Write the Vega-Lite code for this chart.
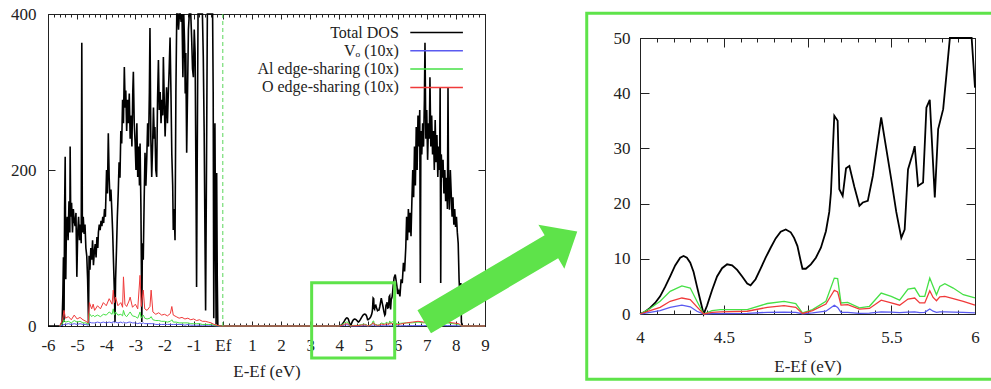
{
  "$schema": "https://vega.github.io/schema/vega-lite/v6.json",
  "width": 991,
  "height": 389,
  "autosize": {"type": "none"},
  "padding": 0,
  "background": "white",
  "config": {
    "view": {"stroke": null},
    "axis": {
      "grid": false,
      "labelFont": "Liberation Serif",
      "titleFont": "Liberation Serif",
      "labelFontSize": 17,
      "titleFontSize": 17,
      "titleFontWeight": "normal",
      "labelColor": "#222222",
      "titleColor": "#222222",
      "domainColor": "#222222",
      "tickColor": "#222222",
      "gridColor": "#222222",
      "gridOpacity": 1,
      "gridWidth": 1,
      "tickWidth": 1,
      "domainWidth": 1,
      "labelFlush": false,
      "labelOverlap": false
    }
  },
  "datasets": {
    "total": [
      {"E": -6.0, "dos": 0}, {"E": -5.6, "dos": 0}, {"E": -5.52, "dos": 0}, {"E": -5.49, "dos": 40}, {"E": -5.47, "dos": 88}, {"E": -5.45, "dos": 5}, {"E": -5.43, "dos": 150}, {"E": -5.41, "dos": 217}, {"E": -5.39, "dos": 60}, {"E": -5.37, "dos": 120}, {"E": -5.34, "dos": 140}, {"E": -5.31, "dos": 110}, {"E": -5.28, "dos": 160}, {"E": -5.25, "dos": 120}, {"E": -5.24, "dos": 230}, {"E": -5.22, "dos": 140}, {"E": -5.19, "dos": 158}, {"E": -5.16, "dos": 120}, {"E": -5.13, "dos": 150}, {"E": -5.1, "dos": 135}, {"E": -5.07, "dos": 128}, {"E": -5.04, "dos": 145}, {"E": -5.01, "dos": 63}, {"E": -4.98, "dos": 120}, {"E": -4.95, "dos": 140}, {"E": -4.92, "dos": 110}, {"E": -4.89, "dos": 130}, {"E": -4.86, "dos": 106}, {"E": -4.84, "dos": 363}, {"E": -4.82, "dos": 120}, {"E": -4.79, "dos": 140}, {"E": -4.76, "dos": 118}, {"E": -4.73, "dos": 130}, {"E": -4.7, "dos": 100}, {"E": -4.67, "dos": 90}, {"E": -4.64, "dos": 60}, {"E": -4.62, "dos": 24}, {"E": -4.61, "dos": 2}, {"E": -4.59, "dos": 90}, {"E": -4.56, "dos": 72}, {"E": -4.53, "dos": 100}, {"E": -4.5, "dos": 85}, {"E": -4.47, "dos": 110}, {"E": -4.44, "dos": 78}, {"E": -4.41, "dos": 95}, {"E": -4.38, "dos": 105}, {"E": -4.35, "dos": 88}, {"E": -4.32, "dos": 114}, {"E": -4.29, "dos": 100}, {"E": -4.27, "dos": 120}, {"E": -4.24, "dos": 130}, {"E": -4.21, "dos": 123}, {"E": -4.18, "dos": 135}, {"E": -4.15, "dos": 128}, {"E": -4.12, "dos": 140}, {"E": -4.09, "dos": 132}, {"E": -4.06, "dos": 150}, {"E": -4.03, "dos": 140}, {"E": -3.99, "dos": 200}, {"E": -3.96, "dos": 170}, {"E": -3.93, "dos": 247}, {"E": -3.9, "dos": 190}, {"E": -3.87, "dos": 160}, {"E": -3.84, "dos": 175}, {"E": -3.81, "dos": 149}, {"E": -3.78, "dos": 120}, {"E": -3.75, "dos": 80}, {"E": -3.72, "dos": 42}, {"E": -3.7, "dos": 5}, {"E": -3.68, "dos": 60}, {"E": -3.65, "dos": 97}, {"E": -3.62, "dos": 140}, {"E": -3.59, "dos": 170}, {"E": -3.56, "dos": 210}, {"E": -3.53, "dos": 190}, {"E": -3.5, "dos": 250}, {"E": -3.47, "dos": 234}, {"E": -3.44, "dos": 290}, {"E": -3.41, "dos": 260}, {"E": -3.38, "dos": 332}, {"E": -3.35, "dos": 280}, {"E": -3.33, "dos": 302}, {"E": -3.3, "dos": 250}, {"E": -3.27, "dos": 290}, {"E": -3.24, "dos": 260}, {"E": -3.21, "dos": 298}, {"E": -3.18, "dos": 240}, {"E": -3.15, "dos": 270}, {"E": -3.12, "dos": 230}, {"E": -3.09, "dos": 300}, {"E": -3.07, "dos": 326}, {"E": -3.04, "dos": 260}, {"E": -3.01, "dos": 235}, {"E": -2.98, "dos": 200}, {"E": -2.95, "dos": 260}, {"E": -2.92, "dos": 191}, {"E": -2.89, "dos": 230}, {"E": -2.86, "dos": 180}, {"E": -2.84, "dos": 234}, {"E": -2.81, "dos": 150}, {"E": -2.78, "dos": 5}, {"E": -2.76, "dos": 106}, {"E": -2.73, "dos": 85}, {"E": -2.7, "dos": 160}, {"E": -2.67, "dos": 222}, {"E": -2.64, "dos": 180}, {"E": -2.61, "dos": 215}, {"E": -2.58, "dos": 260}, {"E": -2.55, "dos": 230}, {"E": -2.52, "dos": 300}, {"E": -2.5, "dos": 382}, {"E": -2.47, "dos": 240}, {"E": -2.44, "dos": 191}, {"E": -2.41, "dos": 230}, {"E": -2.38, "dos": 280}, {"E": -2.35, "dos": 240}, {"E": -2.33, "dos": 255}, {"E": -2.3, "dos": 200}, {"E": -2.27, "dos": 191}, {"E": -2.24, "dos": 290}, {"E": -2.21, "dos": 341}, {"E": -2.18, "dos": 277}, {"E": -2.15, "dos": 300}, {"E": -2.12, "dos": 260}, {"E": -2.09, "dos": 290}, {"E": -2.06, "dos": 270}, {"E": -2.04, "dos": 345}, {"E": -2.01, "dos": 290}, {"E": -1.98, "dos": 243}, {"E": -1.95, "dos": 280}, {"E": -1.93, "dos": 306}, {"E": -1.9, "dos": 260}, {"E": -1.87, "dos": 298}, {"E": -1.84, "dos": 330}, {"E": -1.81, "dos": 370}, {"E": -1.78, "dos": 300}, {"E": -1.75, "dos": 220}, {"E": -1.72, "dos": 180}, {"E": -1.7, "dos": 123}, {"E": -1.67, "dos": 150}, {"E": -1.64, "dos": 110}, {"E": -1.61, "dos": 300}, {"E": -1.58, "dos": 420}, {"E": -1.55, "dos": 450}, {"E": -1.52, "dos": 380}, {"E": -1.49, "dos": 460}, {"E": -1.46, "dos": 430}, {"E": -1.43, "dos": 390}, {"E": -1.4, "dos": 470}, {"E": -1.37, "dos": 319}, {"E": -1.34, "dos": 420}, {"E": -1.31, "dos": 360}, {"E": -1.29, "dos": 298}, {"E": -1.27, "dos": 350}, {"E": -1.24, "dos": 222}, {"E": -1.21, "dos": 300}, {"E": -1.18, "dos": 380}, {"E": -1.15, "dos": 440}, {"E": -1.13, "dos": 480}, {"E": -1.1, "dos": 420}, {"E": -1.07, "dos": 370}, {"E": -1.04, "dos": 330}, {"E": -1.01, "dos": 319}, {"E": -0.98, "dos": 380}, {"E": -0.95, "dos": 350}, {"E": -0.92, "dos": 180}, {"E": -0.9, "dos": 50}, {"E": -0.88, "dos": 200}, {"E": -0.85, "dos": 420}, {"E": -0.82, "dos": 480}, {"E": -0.79, "dos": 450}, {"E": -0.76, "dos": 500}, {"E": -0.73, "dos": 430}, {"E": -0.7, "dos": 460}, {"E": -0.67, "dos": 345}, {"E": -0.64, "dos": 250}, {"E": -0.61, "dos": 106}, {"E": -0.59, "dos": 20}, {"E": -0.56, "dos": 200}, {"E": -0.53, "dos": 420}, {"E": -0.5, "dos": 480}, {"E": -0.47, "dos": 440}, {"E": -0.44, "dos": 500}, {"E": -0.41, "dos": 460}, {"E": -0.38, "dos": 470}, {"E": -0.35, "dos": 420}, {"E": -0.33, "dos": 300}, {"E": -0.31, "dos": 10}, {"E": -0.29, "dos": 150}, {"E": -0.27, "dos": 260}, {"E": -0.25, "dos": 120}, {"E": -0.23, "dos": 2}, {"E": -0.21, "dos": 196}, {"E": -0.19, "dos": 60}, {"E": -0.17, "dos": 0}, {"E": 3.85, "dos": 0},
      {"E": 4.0, "dos": 0}, {"E": 4.03, "dos": 0.4}, {"E": 4.06, "dos": 1.1}, {"E": 4.09, "dos": 2.0}, {"E": 4.12, "dos": 3.2}, {"E": 4.15, "dos": 4.9}, {"E": 4.18, "dos": 6.8}, {"E": 4.21, "dos": 8.8}, {"E": 4.24, "dos": 10.2}, {"E": 4.26, "dos": 10.5}, {"E": 4.28, "dos": 10.2}, {"E": 4.3, "dos": 9.3}, {"E": 4.32, "dos": 7.6}, {"E": 4.34, "dos": 5.0}, {"E": 4.36, "dos": 2.5}, {"E": 4.38, "dos": 0.0}, {"E": 4.4, "dos": 1.5}, {"E": 4.43, "dos": 4.3}, {"E": 4.46, "dos": 6.8}, {"E": 4.49, "dos": 8.3}, {"E": 4.52, "dos": 9.0}, {"E": 4.55, "dos": 8.8}, {"E": 4.58, "dos": 8.0}, {"E": 4.61, "dos": 6.8}, {"E": 4.64, "dos": 5.5}, {"E": 4.66, "dos": 5.2}, {"E": 4.69, "dos": 6.3}, {"E": 4.72, "dos": 8.2}, {"E": 4.75, "dos": 10.2}, {"E": 4.78, "dos": 12.0}, {"E": 4.81, "dos": 13.7}, {"E": 4.84, "dos": 14.9}, {"E": 4.87, "dos": 15.3}, {"E": 4.9, "dos": 14.8}, {"E": 4.92, "dos": 13.8}, {"E": 4.94, "dos": 12.3}, {"E": 4.96, "dos": 9.5}, {"E": 4.97, "dos": 8.2}, {"E": 4.99, "dos": 8.2}, {"E": 5.02, "dos": 9.0}, {"E": 5.05, "dos": 10.2}, {"E": 5.08, "dos": 12.0}, {"E": 5.11, "dos": 15.0}, {"E": 5.13, "dos": 18.5}, {"E": 5.14, "dos": 22.0}, {"E": 5.16, "dos": 35.9}, {"E": 5.18, "dos": 35.0}, {"E": 5.19, "dos": 22.6}, {"E": 5.21, "dos": 21.4}, {"E": 5.23, "dos": 26.4}, {"E": 5.25, "dos": 26.8}, {"E": 5.28, "dos": 23.0}, {"E": 5.31, "dos": 19.6}, {"E": 5.33, "dos": 20.2}, {"E": 5.36, "dos": 20.5}, {"E": 5.39, "dos": 25.0}, {"E": 5.44, "dos": 35.6}, {"E": 5.47, "dos": 30.0}, {"E": 5.5, "dos": 24.4}, {"E": 5.53, "dos": 18.5}, {"E": 5.56, "dos": 13.8}, {"E": 5.58, "dos": 15.3}, {"E": 5.6, "dos": 26.2}, {"E": 5.63, "dos": 29.2}, {"E": 5.64, "dos": 30.4}, {"E": 5.66, "dos": 23.2}, {"E": 5.69, "dos": 23.8}, {"E": 5.71, "dos": 37.4}, {"E": 5.73, "dos": 38.8}, {"E": 5.76, "dos": 21.1}, {"E": 5.78, "dos": 33.5}, {"E": 5.81, "dos": 37.1}, {"E": 5.83, "dos": 43.5}, {"E": 5.85, "dos": 52}, {"E": 5.88, "dos": 62}, {"E": 5.92, "dos": 66}, {"E": 5.95, "dos": 58}, {"E": 5.98, "dos": 50}, {"E": 6.0, "dos": 41},
      {"E": 6.04, "dos": 45}, {"E": 6.08, "dos": 38}, {"E": 6.12, "dos": 60}, {"E": 6.16, "dos": 55}, {"E": 6.2, "dos": 81}, {"E": 6.24, "dos": 70}, {"E": 6.28, "dos": 100}, {"E": 6.31, "dos": 140}, {"E": 6.34, "dos": 110}, {"E": 6.37, "dos": 150}, {"E": 6.4, "dos": 120}, {"E": 6.43, "dos": 145}, {"E": 6.46, "dos": 115}, {"E": 6.49, "dos": 160}, {"E": 6.52, "dos": 200}, {"E": 6.55, "dos": 165}, {"E": 6.58, "dos": 230}, {"E": 6.61, "dos": 180}, {"E": 6.64, "dos": 255}, {"E": 6.67, "dos": 200}, {"E": 6.7, "dos": 270}, {"E": 6.73, "dos": 230}, {"E": 6.76, "dos": 277}, {"E": 6.78, "dos": 55}, {"E": 6.8, "dos": 250}, {"E": 6.83, "dos": 220}, {"E": 6.86, "dos": 260}, {"E": 6.89, "dos": 230}, {"E": 6.92, "dos": 290}, {"E": 6.94, "dos": 363}, {"E": 6.97, "dos": 240}, {"E": 7.0, "dos": 277}, {"E": 7.03, "dos": 213}, {"E": 7.06, "dos": 260}, {"E": 7.09, "dos": 240}, {"E": 7.11, "dos": 319}, {"E": 7.14, "dos": 230}, {"E": 7.17, "dos": 270}, {"E": 7.2, "dos": 220}, {"E": 7.23, "dos": 250}, {"E": 7.26, "dos": 200}, {"E": 7.29, "dos": 264}, {"E": 7.32, "dos": 210}, {"E": 7.35, "dos": 245}, {"E": 7.38, "dos": 191}, {"E": 7.41, "dos": 230}, {"E": 7.44, "dos": 200}, {"E": 7.46, "dos": 306}, {"E": 7.48, "dos": 55}, {"E": 7.5, "dos": 220}, {"E": 7.53, "dos": 190}, {"E": 7.56, "dos": 213}, {"E": 7.59, "dos": 170}, {"E": 7.62, "dos": 200}, {"E": 7.65, "dos": 160}, {"E": 7.68, "dos": 190}, {"E": 7.71, "dos": 150}, {"E": 7.73, "dos": 306}, {"E": 7.75, "dos": 180}, {"E": 7.78, "dos": 149}, {"E": 7.81, "dos": 200}, {"E": 7.84, "dos": 170}, {"E": 7.87, "dos": 140}, {"E": 7.9, "dos": 165}, {"E": 7.93, "dos": 130}, {"E": 7.96, "dos": 150}, {"E": 7.99, "dos": 127}, {"E": 8.02, "dos": 140}, {"E": 8.05, "dos": 120}, {"E": 8.08, "dos": 106}, {"E": 8.11, "dos": 60}, {"E": 8.14, "dos": 37}, {"E": 8.17, "dos": 55}, {"E": 8.19, "dos": 5}, {"E": 8.22, "dos": 0}, {"E": 9.0, "dos": 0}
    ],
    "partial": [
      {"E": -5.6, "vo": 0, "al": 0, "o": 0}, {"E": -5.5, "vo": 1, "al": 3, "o": 8}, {"E": -5.45, "vo": 2, "al": 8, "o": 20}, {"E": -5.4, "vo": 2, "al": 5, "o": 10}, {"E": -5.3, "vo": 3, "al": 6, "o": 12}, {"E": -5.2, "vo": 2, "al": 4, "o": 8}, {"E": -5.1, "vo": 3, "al": 7, "o": 14}, {"E": -5.0, "vo": 2, "al": 5, "o": 9}, {"E": -4.9, "vo": 3, "al": 6, "o": 11}, {"E": -4.8, "vo": 2, "al": 4, "o": 8}, {"E": -4.7, "vo": 2, "al": 4, "o": 6}, {"E": -4.62, "vo": 1, "al": 2, "o": 4}, {"E": -4.58, "vo": 5, "al": 16, "o": 30}, {"E": -4.5, "vo": 4, "al": 12, "o": 22}, {"E": -4.45, "vo": 4, "al": 14, "o": 28}, {"E": -4.4, "vo": 4, "al": 12, "o": 20}, {"E": -4.3, "vo": 5, "al": 14, "o": 26}, {"E": -4.2, "vo": 4, "al": 12, "o": 22}, {"E": -4.1, "vo": 5, "al": 15, "o": 30}, {"E": -4.0, "vo": 4, "al": 14, "o": 26}, {"E": -3.9, "vo": 5, "al": 18, "o": 35}, {"E": -3.8, "vo": 4, "al": 15, "o": 28}, {"E": -3.76, "vo": 6, "al": 22, "o": 46}, {"E": -3.72, "vo": 4, "al": 14, "o": 30}, {"E": -3.68, "vo": 5, "al": 18, "o": 37}, {"E": -3.6, "vo": 4, "al": 14, "o": 26}, {"E": -3.5, "vo": 5, "al": 15, "o": 30}, {"E": -3.44, "vo": 4, "al": 13, "o": 24}, {"E": -3.41, "vo": 5, "al": 20, "o": 63}, {"E": -3.36, "vo": 4, "al": 14, "o": 28}, {"E": -3.3, "vo": 4, "al": 12, "o": 25}, {"E": -3.22, "vo": 5, "al": 16, "o": 32}, {"E": -3.18, "vo": 5, "al": 18, "o": 37}, {"E": -3.1, "vo": 4, "al": 13, "o": 24}, {"E": -3.0, "vo": 4, "al": 12, "o": 28}, {"E": -2.92, "vo": 3, "al": 10, "o": 22}, {"E": -2.84, "vo": 4, "al": 18, "o": 65}, {"E": -2.8, "vo": 3, "al": 10, "o": 25}, {"E": -2.73, "vo": 4, "al": 14, "o": 46}, {"E": -2.68, "vo": 3, "al": 10, "o": 22}, {"E": -2.6, "vo": 3, "al": 9, "o": 20}, {"E": -2.5, "vo": 3, "al": 10, "o": 25}, {"E": -2.46, "vo": 3, "al": 12, "o": 46}, {"E": -2.4, "vo": 3, "al": 8, "o": 18}, {"E": -2.3, "vo": 2, "al": 7, "o": 15}, {"E": -2.2, "vo": 2, "al": 7, "o": 17}, {"E": -2.1, "vo": 2, "al": 6, "o": 14}, {"E": -2.0, "vo": 2, "al": 6, "o": 15}, {"E": -1.9, "vo": 2, "al": 5, "o": 13}, {"E": -1.8, "vo": 2, "al": 6, "o": 16}, {"E": -1.75, "vo": 2, "al": 8, "o": 25}, {"E": -1.7, "vo": 2, "al": 5, "o": 14}, {"E": -1.6, "vo": 2, "al": 5, "o": 12}, {"E": -1.5, "vo": 2, "al": 4, "o": 10}, {"E": -1.4, "vo": 2, "al": 4, "o": 11}, {"E": -1.3, "vo": 1, "al": 4, "o": 9}, {"E": -1.2, "vo": 2, "al": 4, "o": 10}, {"E": -1.1, "vo": 1, "al": 3, "o": 8}, {"E": -1.0, "vo": 1, "al": 3, "o": 9}, {"E": -0.9, "vo": 1, "al": 3, "o": 7}, {"E": -0.8, "vo": 1, "al": 3, "o": 8}, {"E": -0.7, "vo": 1, "al": 2, "o": 6}, {"E": -0.6, "vo": 1, "al": 2, "o": 6}, {"E": -0.5, "vo": 1, "al": 2, "o": 5}, {"E": -0.4, "vo": 1, "al": 2, "o": 4}, {"E": -0.3, "vo": 0.5, "al": 1, "o": 2}, {"E": -0.2, "vo": 0, "al": 0.5, "o": 1}, {"E": -0.1, "vo": 0, "al": 0, "o": 0}, {"E": 3.9, "vo": 0, "al": 0, "o": 0},
      {"E": 4.0, "vo": 0, "al": 0, "o": 0}, {"E": 4.06, "vo": 0.3, "al": 1.0, "o": 0.6}, {"E": 4.12, "vo": 0.6, "al": 2.3, "o": 1.2}, {"E": 4.18, "vo": 1.2, "al": 4.1, "o": 2.3}, {"E": 4.25, "vo": 1.6, "al": 5.1, "o": 2.9}, {"E": 4.3, "vo": 1.3, "al": 4.7, "o": 2.6}, {"E": 4.34, "vo": 0.5, "al": 2.3, "o": 1.3}, {"E": 4.38, "vo": 0, "al": 0, "o": 0}, {"E": 4.43, "vo": 0.05, "al": 0.6, "o": 0.3}, {"E": 4.48, "vo": 0.05, "al": 0.8, "o": 0.4}, {"E": 4.64, "vo": 0.1, "al": 0.8, "o": 0.5}, {"E": 4.76, "vo": 0.3, "al": 1.9, "o": 1.2}, {"E": 4.86, "vo": 0.35, "al": 2.3, "o": 1.5}, {"E": 4.93, "vo": 0.3, "al": 1.9, "o": 1.2}, {"E": 4.97, "vo": 0.05, "al": 0.2, "o": 0.1}, {"E": 5.03, "vo": 0.2, "al": 0.8, "o": 0.6}, {"E": 5.11, "vo": 0.5, "al": 2.3, "o": 1.8}, {"E": 5.16, "vo": 1.6, "al": 6.5, "o": 4.3}, {"E": 5.18, "vo": 1.2, "al": 6.4, "o": 4.0}, {"E": 5.2, "vo": 0.3, "al": 2.0, "o": 1.6}, {"E": 5.24, "vo": 0.3, "al": 2.1, "o": 1.7}, {"E": 5.31, "vo": 0.1, "al": 1.1, "o": 0.9}, {"E": 5.37, "vo": 0.15, "al": 1.4, "o": 1.0}, {"E": 5.44, "vo": 0.4, "al": 3.8, "o": 2.5}, {"E": 5.5, "vo": 0.35, "al": 3.2, "o": 2.0}, {"E": 5.55, "vo": 0.25, "al": 2.5, "o": 1.6}, {"E": 5.6, "vo": 0.35, "al": 4.5, "o": 2.7}, {"E": 5.64, "vo": 0.4, "al": 4.7, "o": 2.9}, {"E": 5.67, "vo": 0.25, "al": 3.2, "o": 2.0}, {"E": 5.7, "vo": 0.3, "al": 3.2, "o": 2.0}, {"E": 5.73, "vo": 0.9, "al": 6.5, "o": 4.2}, {"E": 5.75, "vo": 0.5, "al": 5.0, "o": 3.0}, {"E": 5.77, "vo": 0.3, "al": 3.5, "o": 2.4}, {"E": 5.79, "vo": 0.4, "al": 5.0, "o": 3.1}, {"E": 5.82, "vo": 0.4, "al": 5.5, "o": 3.2}, {"E": 5.87, "vo": 0.35, "al": 4.7, "o": 2.8}, {"E": 5.93, "vo": 0.3, "al": 3.5, "o": 2.3}, {"E": 6.0, "vo": 0.2, "al": 2.9, "o": 1.6},
      {"E": 6.1, "vo": 0.3, "al": 3.5, "o": 2.5}, {"E": 6.3, "vo": 0.4, "al": 4, "o": 4}, {"E": 6.5, "vo": 0.5, "al": 4, "o": 5}, {"E": 6.7, "vo": 0.5, "al": 5, "o": 6}, {"E": 6.9, "vo": 0.5, "al": 4, "o": 5}, {"E": 7.1, "vo": 0.6, "al": 5, "o": 6}, {"E": 7.3, "vo": 0.5, "al": 4, "o": 5}, {"E": 7.5, "vo": 0.6, "al": 5, "o": 6}, {"E": 7.7, "vo": 0.5, "al": 4, "o": 5}, {"E": 7.9, "vo": 0.4, "al": 3, "o": 4}, {"E": 8.1, "vo": 0.3, "al": 2, "o": 3}, {"E": 8.2, "vo": 0, "al": 0, "o": 0}, {"E": 9.0, "vo": 0, "al": 0, "o": 0}
    ],
    "fermi": [{"E": 0}],
    "zoombox": [{"x1": 3.05, "x2": 5.9, "y1": -41, "y2": 55.5}],
    "arrow": [{"x": 9.54, "y": 63.3}],
    "panelbox": [{"x1": 3.682, "x2": 6.2, "y1": -11.8, "y2": 54.5}]
  },
  "layer": [
    {
      "layer": [
        {
          "data": {"name": "total"},
          "mark": {"type": "line", "strokeWidth": 1.6},
          "encoding": {
            "x": {"field": "E", "type": "quantitative", "scale": {"domain": [-6, 9], "range": [48, 485], "nice": false, "zero": false},
              "axis": {"orient": "bottom", "offset": -68, "values": [-6, -5, -4, -3, -2, -1, 0, 1, 2, 3, 4, 5, 6, 7, 8, 9], "ticks": true, "tickSize": 5, "domain": false, "labelPadding": 11, "labelFont": "Liberation Serif", "titleFont": "Liberation Serif", "labelExpr": "datum.value == 0 ? 'Ef' : '' + datum.value", "title": "E-Ef (eV)", "titlePadding": 10}},
            "y": {"field": "dos", "type": "quantitative", "scale": {"domain": [0, 400], "range": [326, 14], "nice": false, "clamp": true},
              "axis": {"orient": "left", "offset": -55, "values": [0, 200, 400], "ticks": true, "tickSize": 7, "domain": false, "labelPadding": 12, "labelFont": "Liberation Serif", "title": null}},
            "color": {"datum": "tot", "type": "nominal",
              "scale": {"domain": ["tot", "vo", "al", "o"], "range": ["#000000", "#5a5af0", "#46e046", "#f03a3a"]},
              "legend": {"orient": "none", "legendX": 427.6, "legendY": 23.5, "title": null, "padding": 0, "symbolType": "M-3.29,0H3.29", "symbolSize": 256, "symbolStrokeWidth": 1.5, "rowPadding": 1.3, "labelAlign": "right", "labelOffset": -46.8, "labelFont": "Liberation Serif", "labelFontSize": 16, "labelColor": "#222222", "labelLimit": 400,
                "labelExpr": "{'tot': 'Total DOS', 'vo': 'Vₒ (10x)', 'al': 'Al edge-sharing (10x)', 'o': 'O edge-sharing (10x)'}[datum.label]"}}
          }
        },
        {
          "data": {"name": "partial"},
          "transform": [{"fold": ["vo", "al", "o"], "as": ["s", "v"]}],
          "mark": {"type": "line", "strokeWidth": 1},
          "encoding": {
            "x": {"field": "E", "type": "quantitative", "scale": {"domain": [-6, 9], "range": [48, 485], "nice": false, "zero": false},
              "axis": {"orient": "bottom", "offset": -66, "values": [-6, -5.8, -5.6, -5.4, -5.2, -5, -4.8, -4.6, -4.4, -4.2, -4, -3.8, -3.6, -3.4, -3.2, -3, -2.8, -2.6, -2.4, -2.2, -2, -1.8, -1.6, -1.4, -1.2, -1, -0.8, -0.6, -0.4, -0.2, 0, 0.2, 0.4, 0.6, 0.8, 1, 1.2, 1.4, 1.6, 1.8, 2, 2.2, 2.4, 2.6, 2.8, 3, 3.2, 3.4, 3.6, 3.8, 4, 4.2, 4.4, 4.6, 4.8, 5, 5.2, 5.4, 5.6, 5.8, 6, 6.2, 6.4, 6.6, 6.8, 7, 7.2, 7.4, 7.6, 7.8, 8, 8.2, 8.4, 8.6, 8.8, 9], "ticks": true, "tickSize": 3, "labels": false, "domain": false, "title": null}},
            "y": {"field": "v", "type": "quantitative", "scale": {"domain": [0, 400], "range": [326, 14], "nice": false, "clamp": true},
              "axis": {"orient": "right", "offset": -513, "values": [0, 200, 400], "ticks": true, "tickSize": 7, "labels": false, "domain": false, "title": null}},
            "color": {"field": "s", "type": "nominal", "scale": {"domain": ["tot", "vo", "al", "o"], "range": ["#000000", "#5a5af0", "#46e046", "#f03a3a"]}, "legend": null}
          }
        },
        {
          "data": {"name": "fermi"},
          "mark": {"type": "rule", "strokeDash": [4, 3], "color": "#5ad65a", "strokeWidth": 1},
          "encoding": {
            "x": {"field": "E", "type": "quantitative", "scale": {"domain": [-6, 9], "range": [48, 485], "nice": false, "zero": false},
              "axis": {"orient": "top", "offset": -19, "values": [-6, -5, -4, -3, -2, -1, 0, 1, 2, 3, 4, 5, 6, 7, 8, 9], "ticks": true, "tickSize": 5, "labels": false, "domain": false, "title": null}},
            "y": {"datum": 0, "type": "quantitative", "scale": {"domain": [0, 400], "range": [326, 14], "nice": false, "clamp": true},
              "axis": {"orient": "left", "offset": -48, "values": [0, 400], "grid": true, "ticks": false, "labels": false, "domain": false, "title": null}},
            "y2": {"datum": 400}
          }
        },
        {
          "data": {"name": "fermi"},
          "mark": {"type": "rule", "strokeOpacity": 0},
          "encoding": {
            "x": {"field": "E", "type": "quantitative", "scale": {"domain": [-6, 9], "range": [48, 485], "nice": false, "zero": false},
              "axis": {"orient": "top", "offset": -17, "values": [-6, -5.8, -5.6, -5.4, -5.2, -5, -4.8, -4.6, -4.4, -4.2, -4, -3.8, -3.6, -3.4, -3.2, -3, -2.8, -2.6, -2.4, -2.2, -2, -1.8, -1.6, -1.4, -1.2, -1, -0.8, -0.6, -0.4, -0.2, 0, 0.2, 0.4, 0.6, 0.8, 1, 1.2, 1.4, 1.6, 1.8, 2, 2.2, 2.4, 2.6, 2.8, 3, 3.2, 3.4, 3.6, 3.8, 4, 4.2, 4.4, 4.6, 4.8, 5, 5.2, 5.4, 5.6, 5.8, 6, 6.2, 6.4, 6.6, 6.8, 7, 7.2, 7.4, 7.6, 7.8, 8, 8.2, 8.4, 8.6, 8.8, 9], "ticks": true, "tickSize": 3, "labels": false, "domain": false, "title": null}},
            "y": {"datum": 0, "type": "quantitative", "scale": {"domain": [0, 400], "range": [326, 14], "nice": false, "clamp": true}, "axis": null},
            "y2": {"datum": 400}
          }
        },
        {
          "data": {"name": "fermi"},
          "mark": {"type": "rule", "strokeOpacity": 0},
          "encoding": {
            "x": {"field": "E", "type": "quantitative", "scale": {"domain": [-6, 9], "range": [48, 485], "nice": false, "zero": false},
              "axis": {"orient": "top", "offset": -14, "values": [-6, 9], "grid": true, "ticks": false, "labels": false, "domain": false, "title": null}},
            "y": {"datum": 0, "type": "quantitative", "scale": {"domain": [0, 400], "range": [326, 14], "nice": false, "clamp": true}, "axis": null},
            "y2": {"datum": 400}
          }
        }
      ],
      "resolve": {"axis": {"x": "independent", "y": "independent"}}
    },
    {
      "layer": [
        {
          "data": {"name": "total"},
          "transform": [{"filter": "datum.E >= 4 && datum.E <= 6"}],
          "mark": {"type": "line", "strokeWidth": 1.8},
          "encoding": {
            "x": {"field": "E", "type": "quantitative", "scale": {"domain": [4, 6], "range": [640, 975], "nice": false, "zero": false},
              "axis": {"orient": "bottom", "offset": -84, "values": [4, 4.5, 5, 5.5, 6], "ticks": true, "tickSize": 9, "domain": false, "labelPadding": 15, "labelFont": "Liberation Serif", "titleFont": "Liberation Serif", "labelExpr": "'' + datum.value", "title": "E-Ef (eV)", "titlePadding": 13}},
            "y": {"field": "dos", "type": "quantitative", "scale": {"domain": [0, 50], "range": [314, 38], "nice": false, "clamp": true},
              "axis": {"orient": "left", "offset": -649, "values": [0, 10, 20, 30, 40, 50], "ticks": true, "tickSize": 9, "domain": false, "labelPadding": 10, "labelFont": "Liberation Serif", "title": null}},
            "color": {"datum": "tot", "type": "nominal", "scale": {"domain": ["tot", "vo", "al", "o"], "range": ["#000000", "#5a5af0", "#46e046", "#f03a3a"]}, "legend": null}
          }
        },
        {
          "data": {"name": "partial"},
          "transform": [{"filter": "datum.E >= 4 && datum.E <= 6"}, {"fold": ["vo", "al", "o"], "as": ["s", "v"]}],
          "mark": {"type": "line", "strokeWidth": 1.3},
          "encoding": {
            "x": {"field": "E", "type": "quantitative", "scale": {"domain": [4, 6], "range": [640, 975], "nice": false, "zero": false},
              "axis": {"orient": "bottom", "offset": -79, "values": [4, 4.1, 4.2, 4.3, 4.4, 4.5, 4.6, 4.7, 4.8, 4.9, 5, 5.1, 5.2, 5.3, 5.4, 5.5, 5.6, 5.7, 5.8, 5.9, 6], "ticks": true, "tickSize": 4, "labels": false, "domain": false, "title": null}},
            "y": {"field": "v", "type": "quantitative", "scale": {"domain": [0, 50], "range": [314, 38], "nice": false, "clamp": true},
              "axis": {"orient": "right", "offset": -25, "values": [0, 10, 20, 30, 40, 50], "ticks": true, "tickSize": 9, "labels": false, "domain": false, "title": null}},
            "color": {"field": "s", "type": "nominal", "scale": {"domain": ["tot", "vo", "al", "o"], "range": ["#000000", "#5a5af0", "#46e046", "#f03a3a"]}, "legend": null}
          }
        },
        {
          "data": {"name": "total"},
          "transform": [{"filter": "datum.E >= 4 && datum.E <= 6"}],
          "mark": {"type": "line", "strokeOpacity": 0},
          "encoding": {
            "x": {"field": "E", "type": "quantitative", "scale": {"domain": [4, 6], "range": [640, 975], "nice": false, "zero": false},
              "axis": {"orient": "top", "offset": -47, "values": [4, 4.5, 5, 5.5, 6], "ticks": true, "tickSize": 9, "labels": false, "domain": false, "title": null}},
            "y": {"field": "dos", "type": "quantitative", "scale": {"domain": [0, 50], "range": [314, 38], "nice": false, "clamp": true},
              "axis": {"orient": "left", "offset": -640, "values": [0, 50], "grid": true, "ticks": false, "labels": false, "domain": false, "title": null}}
          }
        },
        {
          "data": {"name": "total"},
          "transform": [{"filter": "datum.E >= 4 && datum.E <= 6"}],
          "mark": {"type": "line", "strokeOpacity": 0},
          "encoding": {
            "x": {"field": "E", "type": "quantitative", "scale": {"domain": [4, 6], "range": [640, 975], "nice": false, "zero": false},
              "axis": {"orient": "top", "offset": -42, "values": [4, 4.1, 4.2, 4.3, 4.4, 4.5, 4.6, 4.7, 4.8, 4.9, 5, 5.1, 5.2, 5.3, 5.4, 5.5, 5.6, 5.7, 5.8, 5.9, 6], "ticks": true, "tickSize": 4, "labels": false, "domain": false, "title": null}},
            "y": {"field": "dos", "type": "quantitative", "scale": {"domain": [0, 50], "range": [314, 38], "nice": false, "clamp": true}, "axis": null}
          }
        },
        {
          "data": {"name": "total"},
          "transform": [{"filter": "datum.E >= 4 && datum.E <= 6"}],
          "mark": {"type": "line", "strokeOpacity": 0},
          "encoding": {
            "x": {"field": "E", "type": "quantitative", "scale": {"domain": [4, 6], "range": [640, 975], "nice": false, "zero": false},
              "axis": {"orient": "top", "offset": -38, "values": [4, 6], "grid": true, "ticks": false, "labels": false, "domain": false, "title": null}},
            "y": {"field": "dos", "type": "quantitative", "scale": {"domain": [0, 50], "range": [314, 38], "nice": false, "clamp": true}, "axis": null}
          }
        }
      ],
      "resolve": {"axis": {"x": "independent", "y": "independent"}}
    },
    {
      "layer": [
        {
          "data": {"name": "zoombox"},
          "mark": {"type": "rect", "filled": false, "stroke": "#5ee34a", "strokeWidth": 3},
          "encoding": {
            "x": {"field": "x1", "type": "quantitative", "scale": {"domain": [-6, 9], "range": [48, 485], "nice": false, "zero": false}, "axis": null},
            "x2": {"field": "x2"},
            "y": {"field": "y1", "type": "quantitative", "scale": {"domain": [0, 400], "range": [326, 14], "nice": false}, "axis": null},
            "y2": {"field": "y2"}
          }
        },
        {
          "data": {"name": "arrow"},
          "mark": {"type": "point", "shape": "M-1,-0.15L0.662,-0.15L0.662,-0.288L1,0L0.662,0.288L0.662,0.15L-1,0.15Z", "filled": true, "fill": "#5ee34a", "opacity": 1, "strokeWidth": 0, "size": 31542, "angle": 329.5},
          "encoding": {
            "x": {"field": "x", "type": "quantitative", "scale": {"domain": [-6, 9], "range": [48, 485], "nice": false, "zero": false}, "axis": null},
            "y": {"field": "y", "type": "quantitative", "scale": {"domain": [0, 400], "range": [326, 14], "nice": false}, "axis": null}
          }
        }
      ]
    },
    {
      "data": {"name": "panelbox"},
      "mark": {"type": "rect", "filled": false, "stroke": "#5ee34a", "strokeWidth": 3},
      "encoding": {
        "x": {"field": "x1", "type": "quantitative", "scale": {"domain": [4, 6], "range": [640, 975], "nice": false, "zero": false}, "axis": null},
        "x2": {"field": "x2"},
        "y": {"field": "y1", "type": "quantitative", "scale": {"domain": [0, 50], "range": [314, 38], "nice": false}, "axis": null},
        "y2": {"field": "y2"}
      }
    }
  ],
  "resolve": {"scale": {"x": "independent", "y": "independent"}, "axis": {"x": "independent", "y": "independent"}}
}
